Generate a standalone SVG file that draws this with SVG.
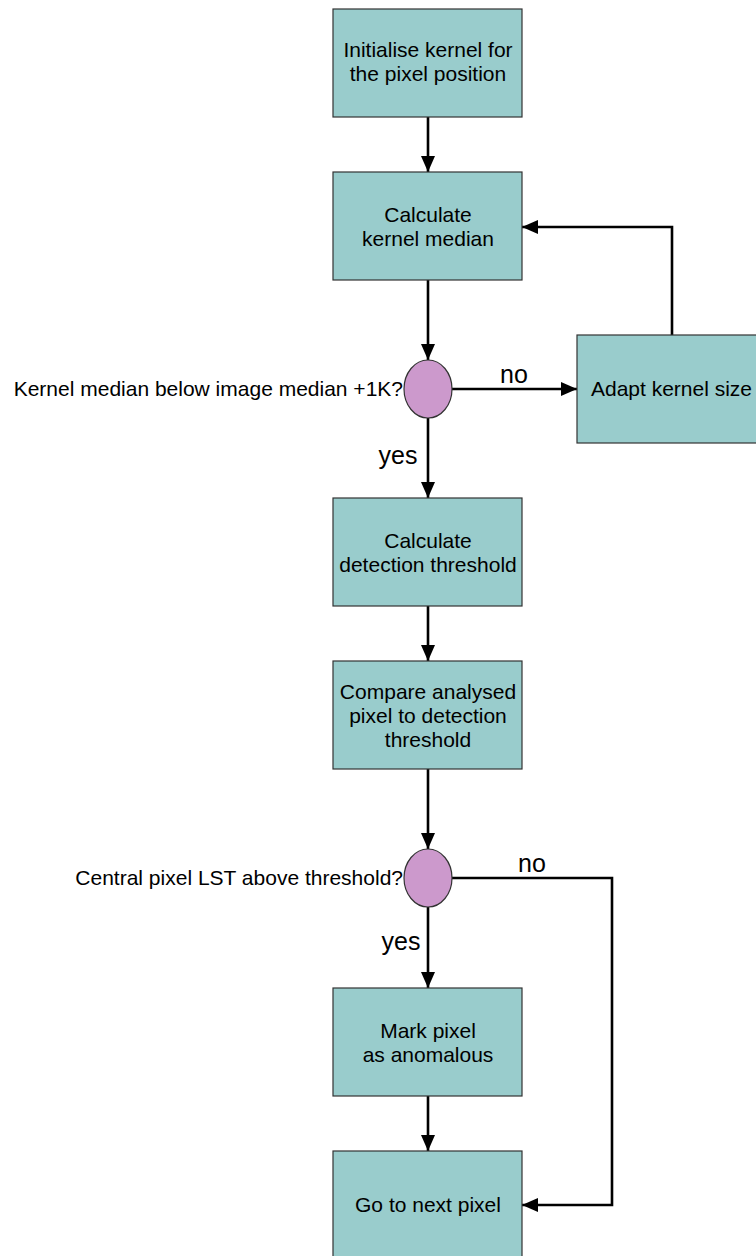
<svg xmlns="http://www.w3.org/2000/svg" width="756" height="1256" viewBox="0 0 756 1256">
<defs>
<style>
.box{fill:#99cccc;stroke:#333;stroke-width:1.2}
.dec{fill:#cc99cc;stroke:#333;stroke-width:1.2}
.t{font-family:"Liberation Sans",Arial,sans-serif;font-size:21px;fill:#000;text-anchor:middle}
.tl{font-family:"Liberation Sans",Arial,sans-serif;font-size:21px;fill:#000;text-anchor:end}
.lab{font-family:"Liberation Sans",Arial,sans-serif;font-size:25px;fill:#000;text-anchor:middle}
.c{fill:none;stroke:#000;stroke-width:2.6}
</style>
<marker id="ah" viewBox="0 0 16 14" refX="16" refY="7" markerWidth="16" markerHeight="14" markerUnits="userSpaceOnUse" orient="auto">
<path d="M0,0 L16,7 L0,14 Z" fill="#000"/>
</marker>
</defs>
<rect width="756" height="1256" fill="#fff"/>
<g id="connectors">
<path class="c" d="M428,117 V172" marker-end="url(#ah)"/>
<path class="c" d="M428,280 V360" marker-end="url(#ah)"/>
<path class="c" d="M452,389 H577" marker-end="url(#ah)"/>
<path class="c" d="M672,335 V227 H522" marker-end="url(#ah)"/>
<path class="c" d="M428,418 V498" marker-end="url(#ah)"/>
<path class="c" d="M428,606 V661" marker-end="url(#ah)"/>
<path class="c" d="M428,769 V849" marker-end="url(#ah)"/>
<path class="c" d="M428,907 V988" marker-end="url(#ah)"/>
<path class="c" d="M452,878 H612 V1205 H522" marker-end="url(#ah)"/>
<path class="c" d="M428,1096 V1151" marker-end="url(#ah)"/>
<text class="lab" x="514" y="383">no</text>
<text class="lab" x="398" y="464">yes</text>
<text class="lab" x="532" y="872">no</text>
<text class="lab" x="401" y="950">yes</text>
</g>
<g id="n1">
<rect class="box" x="333" y="9" width="189" height="108"/>
<text class="t" x="428" y="57">Initialise kernel for</text>
<text class="t" x="428" y="81">the pixel position</text>
</g>
<g id="n2">
<rect class="box" x="333" y="172" width="189" height="108"/>
<text class="t" x="428" y="222">Calculate</text>
<text class="t" x="428" y="246">kernel median</text>
</g>
<g id="d1">
<ellipse class="dec" cx="428" cy="389" rx="24" ry="29"/>
<text class="tl" x="403" y="396">Kernel median below image median +1K?</text>
</g>
<g id="n3">
<rect class="box" x="577" y="335" width="189" height="108"/>
<text class="t" x="671.5" y="396">Adapt kernel size</text>
</g>
<g id="n4">
<rect class="box" x="333" y="498" width="189" height="108"/>
<text class="t" x="428" y="548">Calculate</text>
<text class="t" x="428" y="572">detection threshold</text>
</g>
<g id="n5">
<rect class="box" x="333" y="661" width="189" height="108"/>
<text class="t" x="428" y="699">Compare analysed</text>
<text class="t" x="428" y="723">pixel to detection</text>
<text class="t" x="428" y="747">threshold</text>
</g>
<g id="d2">
<ellipse class="dec" cx="428" cy="878" rx="24" ry="29"/>
<text class="tl" x="403" y="885">Central pixel LST above threshold?</text>
</g>
<g id="n6">
<rect class="box" x="333" y="988" width="189" height="108"/>
<text class="t" x="428" y="1038">Mark pixel</text>
<text class="t" x="428" y="1062">as anomalous</text>
</g>
<g id="n7">
<rect class="box" x="333" y="1151" width="189" height="108"/>
<text class="t" x="428" y="1212">Go to next pixel</text>
</g>
</svg>
